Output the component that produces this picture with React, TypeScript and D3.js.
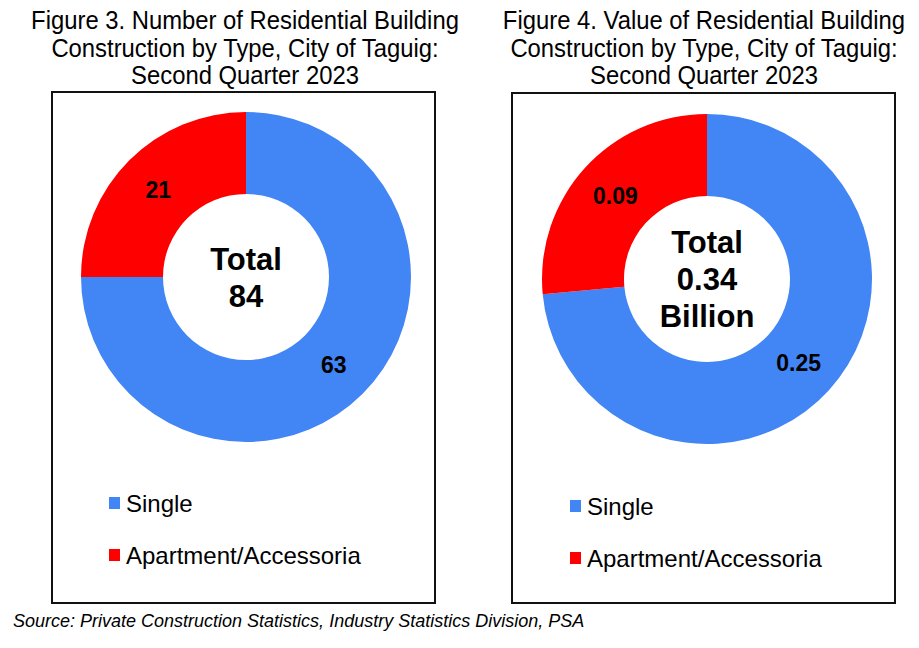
import React from "react";
import * as d3 from "d3";

const categories = ["Single", "Apartment/Accessoria"];
const countValues = [63, 21];
const valueBillions = [0.25, 0.09];
const seriesColors = ["#4285F4", "#FF0000"];

const titleLeft = [
  "Figure 3. Number of Residential Building",
  "Construction by Type, City of Taguig:",
  "Second Quarter 2023",
];
const titleRight = [
  "Figure 4. Value of Residential Building",
  "Construction by Type, City of Taguig:",
  "Second Quarter 2023",
];
const sourceText =
  "Source: Private Construction Statistics, Industry Statistics Division, PSA";

const W = 919;
const H = 648;
const SANS = "'Liberation Sans', Arial, Helvetica, sans-serif";

type PanelProps = {
  x0: number;
  x1: number;
  y0: number;
  y1: number;
  cx: number;
  cy: number;
  values: number[];
  fmt: (v: number) => string;
  centerLines: string[];
  title: string[];
  titleCx: number;
  legendX: number;
  legendY: number[];
};

function Panel(p: PanelProps) {
  const outerR = 165;
  const innerR = 83;
  const pie = d3
    .pie<number>()
    .sort(null)
    .value((d) => d);
  const arcs = pie(p.values);
  const arcGen = d3.arc<d3.PieArcDatum<number>>().innerRadius(innerR).outerRadius(outerR);
  const color = d3.scaleOrdinal<string, string>().domain(categories).range(seriesColors);
  const centerStart = p.cy - ((p.centerLines.length - 1) * 37) / 2;
  return (
    <g>
      {p.title.map((t, i) => (
        <text
          key={i}
          transform={`translate(${p.titleCx},${29 + i * 27.5}) scale(0.9,1)`}
          textAnchor="middle"
          fontFamily={SANS}
          fontSize={26.5}
          fill="#000"
        >
          {t}
        </text>
      ))}
      <rect
        x={p.x0}
        y={p.y0}
        width={p.x1 - p.x0}
        height={p.y1 - p.y0}
        fill="#fff"
        stroke="#111"
        strokeWidth={2}
      />
      <g transform={`translate(${p.cx},${p.cy})`}>
        {arcs.map((a, i) => (
          <path key={i} d={arcGen(a) || ""} fill={color(categories[i])} />
        ))}
        {arcs.map((a, i) => {
          const [lx, ly] = arcGen.centroid(a);
          return (
            <text
              key={"l" + i}
              x={lx}
              y={ly}
              dy="0.36em"
              textAnchor="middle"
              fontFamily={SANS}
              fontWeight="bold"
              fontSize={23}
              fill="#000"
            >
              {p.fmt(a.data)}
            </text>
          );
        })}
      </g>
      {p.centerLines.map((t, i) => (
        <text
          key={"c" + i}
          x={p.cx}
          y={centerStart + i * 37}
          dy="0.36em"
          textAnchor="middle"
          fontFamily={SANS}
          fontWeight="bold"
          fontSize={31}
          fill="#000"
        >
          {t}
        </text>
      ))}
      {categories.map((c, i) => (
        <g key={"lg" + i} transform={`translate(${p.legendX},${p.legendY[i]})`}>
          <rect x={0} y={-6} width={11} height={12} fill={color(c)} />
          <text
            x={17}
            y={0}
            dy="0.36em"
            fontFamily={SANS}
            fontSize={24}
            fill="#000"
          >
            {c}
          </text>
        </g>
      ))}
    </g>
  );
}

export default function App() {
  const totalCount = d3.sum(countValues);
  const totalValue = d3.sum(valueBillions);
  return (
    <svg
      width={W}
      height={H}
      style={{ position: "absolute", left: 0, top: 0, background: "#fff" }}
    >
      <rect x={0} y={0} width={W} height={H} fill="#fff" />
      <Panel
        x0={52}
        x1={435}
        y0={92}
        y1={603}
        cx={246}
        cy={277}
        values={countValues}
        fmt={(v) => d3.format("d")(v)}
        centerLines={["Total", d3.format("d")(totalCount)]}
        title={titleLeft}
        titleCx={245}
        legendX={109}
        legendY={[503, 555]}
      />
      <Panel
        x0={512}
        x1={895}
        y0={93}
        y1={603}
        cx={707}
        cy={279}
        values={valueBillions}
        fmt={(v) => d3.format(".2f")(v)}
        centerLines={["Total", d3.format(".2f")(totalValue), "Billion"]}
        title={titleRight}
        titleCx={704}
        legendX={570}
        legendY={[506, 558]}
      />
      <text
        x={13}
        y={621}
        dy="0.36em"
        fontFamily={SANS}
        fontStyle="italic"
        fontSize={18}
        fill="#000"
      >
        {sourceText}
      </text>
    </svg>
  );
}
